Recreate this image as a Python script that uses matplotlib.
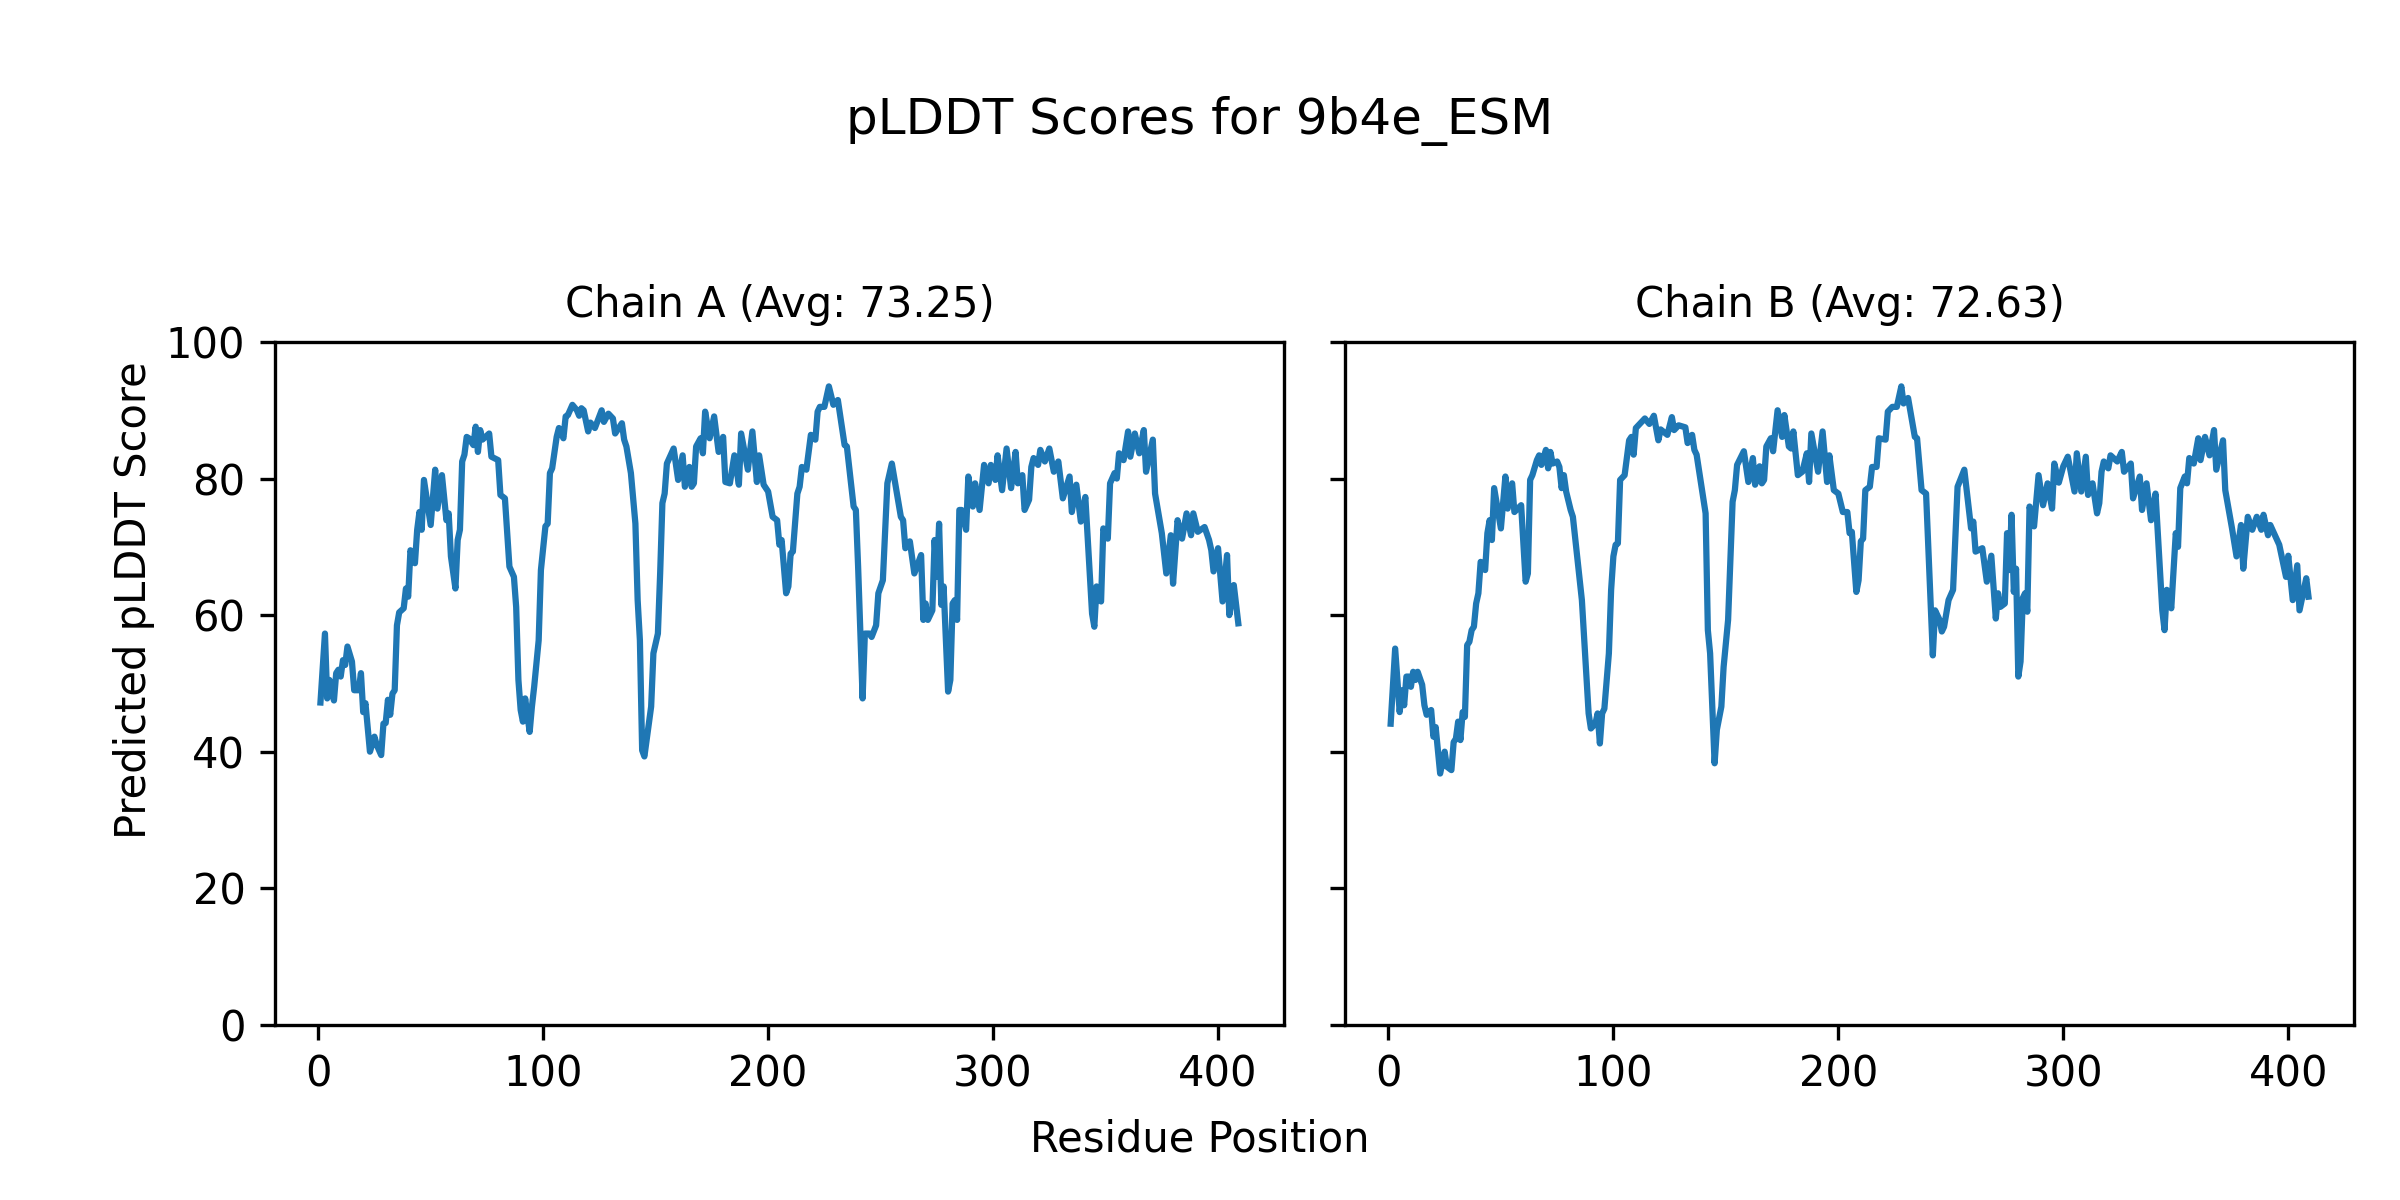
import matplotlib
matplotlib.use("Agg")
import matplotlib.pyplot as plt

# pLDDT per residue (vertices of the traces)
chain_a_res = [1, 3, 4, 5, 7, 8, 9, 10, 11, 12, 13, 15, 16, 18, 19, 20, 21, 23, 25, 26,
               28, 29, 30, 31, 32, 33, 34, 35, 36, 38, 39, 40, 41, 43, 44, 45, 46, 47, 50, 52,
               53, 55, 57, 58, 59, 61, 62, 63, 64, 65, 66, 67, 69, 70, 71, 72, 73, 76, 77, 80,
               81, 83, 85, 87, 88, 89, 90, 91, 92, 94, 95, 96, 98, 99, 101, 102, 103, 104, 106, 107,
               109, 110, 111, 113, 115, 116, 117, 118, 120, 121, 123, 126, 127, 129, 131, 132, 135, 136, 137, 139,
               141, 142, 143, 144, 145, 147, 148, 149, 151, 152, 153, 154, 155, 158, 160, 162, 163, 165, 166, 167,
               168, 170, 171, 172, 174, 176, 178, 180, 181, 183, 185, 187, 188, 191, 193, 195, 196, 198, 200, 202,
               204, 205, 206, 208, 209, 210, 211, 213, 214, 215, 217, 219, 221, 222, 223, 225, 227, 229, 231, 234,
               235, 238, 239, 240, 242, 243, 245, 246, 248, 249, 251, 253, 255, 259, 260, 261, 263, 265, 268, 269,
               270, 271, 273, 274, 275, 276, 277, 278, 280, 281, 282, 283, 284, 285, 286, 288, 289, 291, 292, 294,
               296, 298, 299, 301, 302, 304, 306, 308, 310, 311, 313, 314, 316, 317, 318, 320, 321, 323, 325, 327,
               329, 331, 334, 335, 337, 339, 341, 344, 345, 346, 348, 349, 351, 352, 354, 355, 356, 358, 360, 361,
               363, 365, 367, 368, 371, 372, 375, 377, 379, 380, 382, 384, 386, 388, 389, 391, 394, 396, 397, 398,
               400, 402, 404, 405, 407, 409]
chain_a_plddt = [47.2, 57.3, 47.8, 50.5, 47.5, 51.5, 52.0, 51.0, 53.4, 52.7, 55.4, 53.2, 49.0, 49.0, 51.5, 45.8, 47.1, 40.0, 42.2, 41.0,
                 39.5, 44.1, 44.2, 47.6, 45.4, 48.5, 49.0, 58.5, 60.4, 61.0, 63.9, 62.7, 69.5, 67.6, 72.5, 75.1, 72.5, 79.8, 73.2, 81.3,
                 75.6, 80.5, 73.9, 74.9, 68.6, 63.9, 71.0, 72.5, 82.5, 83.5, 86.1, 85.9, 84.9, 87.6, 83.9, 87.1, 85.7, 86.6, 83.2, 82.7,
                 77.6, 77.1, 67.1, 65.6, 61.2, 50.5, 46.1, 44.4, 47.8, 42.9, 46.6, 49.5, 56.3, 66.6, 73.0, 73.4, 80.8, 81.5, 86.1, 87.4,
                 85.9, 89.1, 89.3, 90.8, 90.0, 89.2, 90.3, 90.0, 86.9, 88.2, 87.4, 90.0, 88.3, 89.5, 88.8, 86.6, 88.1, 85.7, 84.7, 80.8,
                 73.4, 62.2, 56.3, 40.2, 39.3, 44.1, 46.6, 54.4, 57.3, 66.1, 76.4, 77.8, 82.2, 84.4, 79.8, 83.4, 78.8, 81.7, 78.8, 79.3,
                 84.7, 85.9, 83.7, 89.8, 85.9, 89.1, 83.9, 86.1, 79.5, 79.3, 83.4, 79.1, 86.6, 81.3, 86.9, 79.5, 83.4, 79.1, 78.1, 74.4,
                 73.9, 70.3, 71.0, 63.2, 64.2, 69.0, 69.3, 77.8, 78.8, 81.7, 81.3, 86.4, 85.7, 89.8, 90.5, 90.5, 93.5, 90.8, 91.5, 84.9,
                 84.7, 75.9, 75.4, 67.1, 47.8, 57.3, 57.3, 56.8, 58.5, 63.2, 65.1, 79.3, 82.2, 74.4, 73.9, 69.8, 70.8, 66.1, 68.8, 59.3,
                 61.7, 59.3, 60.7, 71.0, 65.6, 73.4, 61.5, 64.2, 48.8, 50.5, 61.7, 62.2, 59.3, 75.4, 75.4, 72.5, 80.3, 75.9, 79.3, 75.4,
                 82.0, 79.3, 82.0, 79.8, 83.4, 78.3, 84.4, 78.6, 83.9, 79.3, 80.5, 75.4, 76.9, 81.7, 83.0, 82.0, 84.2, 82.5, 84.4, 81.0,
                 82.5, 77.1, 80.3, 75.1, 79.1, 73.7, 77.3, 60.2, 58.3, 64.2, 62.0, 72.7, 71.2, 79.3, 80.8, 80.0, 83.7, 82.7, 86.9, 83.2,
                 86.6, 83.7, 87.1, 81.0, 85.7, 77.8, 72.0, 66.1, 71.7, 64.6, 73.9, 71.2, 74.9, 71.7, 74.9, 72.2, 72.9, 71.0, 69.5, 66.4,
                 69.8, 62.0, 68.8, 60.0, 64.4, 58.8]

chain_b_res = [1, 3, 5, 6, 7, 8, 9, 10, 11, 12, 13, 15, 16, 17, 19, 20, 21, 23, 25, 26,
               28, 29, 30, 31, 32, 33, 34, 35, 36, 37, 38, 39, 40, 41, 43, 44, 45, 46, 47, 50,
               52, 53, 55, 56, 59, 61, 62, 63, 64, 66, 67, 68, 70, 71, 72, 73, 75, 76, 77, 78,
               79, 81, 82, 86, 89, 90, 92, 93, 94, 95, 96, 98, 99, 100, 101, 102, 103, 105, 107, 108,
               109, 110, 112, 114, 116, 118, 120, 121, 124, 126, 127, 129, 132, 133, 135, 136, 137, 141, 142, 143,
               145, 146, 148, 149, 151, 153, 154, 155, 158, 160, 162, 163, 165, 166, 167, 168, 170, 171, 173, 175,
               176, 178, 179, 180, 182, 184, 186, 187, 188, 191, 193, 195, 196, 198, 200, 202, 204, 205, 206, 208,
               209, 210, 211, 212, 214, 215, 217, 218, 221, 222, 224, 226, 228, 229, 231, 234, 235, 237, 239, 242,
               243, 245, 246, 247, 249, 251, 253, 256, 259, 260, 261, 264, 266, 268, 270, 271, 272, 274, 275, 276,
               277, 278, 279, 280, 281, 282, 283, 284, 285, 287, 289, 291, 293, 295, 296, 298, 300, 302, 305, 306,
               308, 310, 311, 313, 315, 316, 317, 318, 320, 321, 324, 326, 327, 330, 331, 334, 335, 337, 339, 341,
               344, 345, 346, 348, 350, 351, 352, 354, 355, 356, 358, 360, 361, 363, 365, 367, 368, 371, 372, 375,
               377, 379, 380, 382, 384, 386, 388, 389, 391, 392, 395, 396, 399, 400, 402, 404, 405, 408, 409]
chain_b_plddt = [44.1, 55.1, 45.8, 49.0, 46.8, 51.0, 51.0, 49.5, 51.7, 50.5, 51.7, 49.8, 46.8, 45.4, 46.1, 42.2, 43.6, 36.8, 40.0, 37.8,
                 37.3, 41.4, 41.9, 44.4, 41.7, 45.8, 45.1, 55.6, 56.1, 57.8, 58.3, 61.7, 63.2, 67.8, 66.6, 72.0, 73.9, 71.0, 78.6, 72.7,
                 80.3, 75.6, 79.3, 75.1, 76.1, 64.9, 66.1, 79.8, 80.5, 82.7, 83.4, 82.0, 84.2, 81.5, 83.9, 82.2, 82.5, 81.7, 78.6, 80.5,
                 78.1, 75.4, 74.4, 62.2, 45.6, 43.4, 44.1, 45.6, 41.2, 45.6, 46.3, 54.4, 63.7, 68.6, 70.3, 70.5, 79.8, 80.5, 85.6, 86.1,
                 83.5, 87.4, 88.1, 88.8, 88.0, 89.2, 85.6, 87.2, 86.4, 89.0, 87.1, 87.8, 87.5, 85.2, 86.4, 84.2, 83.5, 74.9, 57.8, 54.4,
                 38.3, 43.2, 46.6, 52.4, 59.3, 76.6, 78.3, 82.0, 84.0, 79.5, 83.0, 79.1, 81.8, 79.3, 79.8, 84.7, 85.9, 84.0, 90.0, 86.1,
                 89.3, 84.7, 84.4, 86.9, 80.5, 81.0, 83.7, 79.5, 86.6, 81.0, 86.9, 79.5, 83.4, 78.3, 77.8, 75.1, 75.1, 72.0, 72.2, 63.4,
                 65.1, 70.8, 71.2, 78.3, 78.8, 81.7, 81.7, 85.9, 85.7, 89.8, 90.5, 90.5, 93.5, 91.0, 91.8, 86.1, 85.9, 78.3, 77.8, 54.1,
                 60.7, 59.3, 57.6, 58.3, 62.2, 63.7, 78.8, 81.3, 72.7, 73.7, 69.3, 69.8, 64.9, 68.7, 59.5, 63.2, 61.2, 61.7, 72.0, 66.6,
                 74.7, 63.4, 66.8, 51.0, 53.2, 62.5, 63.2, 60.5, 75.9, 73.0, 80.5, 76.1, 79.3, 75.6, 82.2, 79.4, 81.8, 83.2, 78.1, 83.7,
                 78.1, 83.2, 77.6, 79.3, 74.9, 76.4, 81.0, 82.5, 81.5, 83.4, 82.5, 83.9, 81.0, 82.2, 77.1, 80.3, 75.4, 79.3, 73.9, 77.8,
                 60.7, 57.8, 63.7, 61.0, 72.0, 70.0, 78.6, 80.3, 79.3, 83.0, 82.2, 85.9, 82.7, 86.1, 83.4, 87.1, 81.3, 85.6, 78.3, 72.7,
                 68.6, 73.2, 66.8, 74.4, 72.5, 74.4, 72.5, 74.7, 71.7, 73.2, 71.0, 70.3, 65.6, 68.7, 62.2, 67.3, 60.7, 65.4, 62.7]

chains = ["A", "B"]
averages = [73.25, 72.63]

fig, axes = plt.subplots(1, 2, figsize=(8, 4), dpi=300, sharey=True)
data = [(chain_a_res, chain_a_plddt), (chain_b_res, chain_b_plddt)]

for ax, chain, avg, (res, vals) in zip(axes, chains, averages, data):
    ax.plot(res, vals)
    ax.set_title(f"Chain {chain} (Avg: {avg:.2f})", fontsize=10)
    ax.set_ylim(0, 100)

fig.suptitle("pLDDT Scores for 9b4e_ESM", y=0.92)
fig.supxlabel("Residue Position", fontsize=10, y=0.033)
fig.supylabel("Predicted pLDDT Score", fontsize=10, x=0.047)

plt.subplots_adjust(left=0.1144, right=0.981, bottom=0.146, top=0.715, wspace=0.06)
plt.savefig("out.png")
